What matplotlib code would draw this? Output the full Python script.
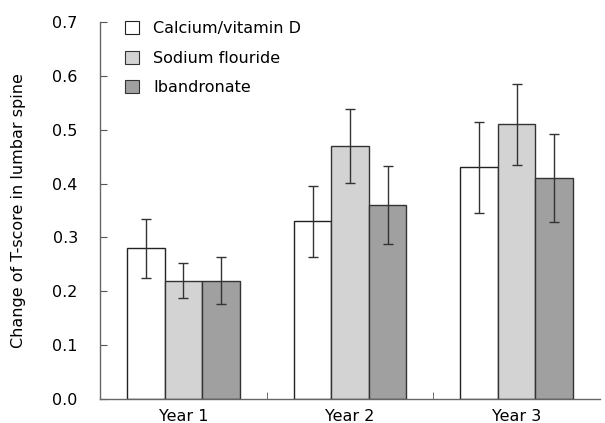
import matplotlib
matplotlib.use("Agg")
import matplotlib.pyplot as plt
import numpy as np

categories = ["Year 1", "Year 2", "Year 3"]
series = ["Calcium/vitamin D", "Sodium flouride", "Ibandronate"]
calcium = [0.28, 0.33, 0.43]
sodium = [0.22, 0.47, 0.51]
iband = [0.22, 0.36, 0.41]
calcium_err = [0.055, 0.066, 0.085]
sodium_err = [0.033, 0.069, 0.075]
iband_err = [0.043, 0.072, 0.082]
yticks = [0.0, 0.1, 0.2, 0.3, 0.4, 0.5, 0.6, 0.7]

FS = 11.5
plt.rcParams['font.family'] = ['DejaVu Sans']
fig = plt.figure(figsize=(6.05, 4.23), dpi=100)
ax = fig.add_axes([100/605, 1-399/423, 500/605, (399-22)/423])

x = np.arange(len(categories))
w = 0.225
fills = ["#ffffff", "#d3d3d3", "#a0a0a0"]
edges = ["#222222", "#333333", "#333333"]
vals = [calcium, sodium, iband]
errs = [calcium_err, sodium_err, iband_err]
for i in range(3):
    ax.bar(x + (i-1)*w, vals[i], w, color=fills[i], edgecolor=edges[i], linewidth=1.0,
           label=series[i], zorder=2)
    ax.errorbar(x + (i-1)*w, vals[i], yerr=errs[i], fmt='none', ecolor="#333333",
                elinewidth=1.0, capsize=3.3, capthick=1.0, zorder=3)

ax.set_xlim(-0.5, 2.5)
ax.set_ylim(0, 0.7)
ax.set_yticks(yticks)
ax.set_yticklabels([f"{v:.1f}" for v in yticks], fontsize=FS)
ax.set_xticks(x)
ax.set_xticklabels(categories, fontsize=FS)
ax.tick_params(axis='x', length=0, pad=7)
ax.set_xticks([0.5, 1.5], minor=True)
ax.tick_params(axis='x', which='minor', direction='in', length=5, color="#555555")
ax.tick_params(axis='y', direction='in', length=5, color="#555555", pad=16)
for s in ["top", "right"]:
    ax.spines[s].set_visible(False)
for s in ["left", "bottom"]:
    ax.spines[s].set_color("#666666")
    ax.spines[s].set_linewidth(1.0)
ax.set_ylabel("Change of T-score in lumbar spine", fontsize=FS)
ax.yaxis.set_label_coords(-0.148, 0.5)

leg = ax.legend(loc="upper left", bbox_to_anchor=(0.022, 1.04), frameon=False, fontsize=FS,
                handlelength=0.85, handleheight=0.85, handletextpad=0.9, labelspacing=0.9)
for h in leg.legend_handles:
    h.set_linewidth(0.8)

fig.savefig("out.png", dpi=100)
